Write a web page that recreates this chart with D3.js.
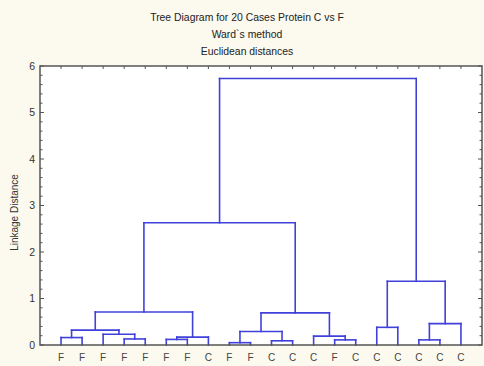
<!DOCTYPE html>
<html><head><meta charset="utf-8">
<script src="https://cdn.jsdelivr.net/npm/d3@7"></script>
<style>
html,body{margin:0;padding:0;background:#fcf9ee;}
svg{display:block;}
text{font-family:"Liberation Sans",Arial,sans-serif;}
</style></head>
<body>
<script>
// ---- data ----
const titleLines = ["Tree Diagram for 20 Cases Protein C vs F", "Ward`s method", "Euclidean distances"];
const leafLabels = ["F","F","F","F","F","F","F","C","F","F","C","C","C","F","C","C","C","C","C","C"];
// merges: [childA, childB, linkage distance]; indices < 20 are leaves, 20+k is merge k
const mergeA = [0, 3, 2, 20, 5, 24, 23, 8, 10, 27, 13, 12, 29, 26, 15, 17, 35, 34, 33];
const mergeB = [1, 4, 21, 22, 6, 7, 25, 9, 11, 28, 14, 30, 31, 32, 16, 18, 19, 36, 37];
const mergeH = [0.16, 0.13, 0.23, 0.32, 0.12, 0.17, 0.71, 0.05, 0.09, 0.29, 0.11, 0.19, 0.69, 2.63, 0.38, 0.11, 0.46, 1.37, 5.73];
const yTicks = [0, 1, 2, 3, 4, 5, 6];
const yTitle = "Linkage Distance";

// ---- layout ----
const W = 484, H = 366;
const L = 40, R = 482, T = 66, B = 345;
const lineColor = "#4040da";

const svg = d3.select("body").append("svg").attr("width", W).attr("height", H);

svg.append("rect").attr("x", L).attr("y", T).attr("width", R - L).attr("height", B - T).attr("fill", "#ffffff");

const n = leafLabels.length;
const x = d3.scaleLinear().domain([-1, n]).range([L, R]);
const y = d3.scaleLinear().domain([0, 6]).range([B, T]);

// titles
svg.selectAll("text.title").data(titleLines).join("text")
  .attr("class", "title")
  .attr("x", 247).attr("y", (d, i) => 20.5 + i * 17)
  .attr("text-anchor", "middle").attr("font-size", 10.4).attr("fill", "#222")
  .text(d => d);

// compute node positions
const nodeX = [], nodeY = [];
for (let i = 0; i < n; i++) { nodeX[i] = x(i); nodeY[i] = y(0); }
const segs = [];
mergeH.forEach((h, k) => {
  const a = mergeA[k], b = mergeB[k];
  const yy = y(h);
  segs.push([nodeX[a], nodeY[a], nodeX[a], yy]);
  segs.push([nodeX[b], nodeY[b], nodeX[b], yy]);
  segs.push([nodeX[a], yy, nodeX[b], yy]);
  nodeX[n + k] = (nodeX[a] + nodeX[b]) / 2;
  nodeY[n + k] = yy;
});

// minor/major ticks (inside)
const tickG = svg.append("g").attr("stroke", "#555").attr("stroke-width", 1);
const minor = d3.range(0, 6.0001, 0.2);
minor.forEach(v => {
  const major = Math.abs(v - Math.round(v)) < 1e-6;
  const len = major ? 4 : 2.5;
  tickG.append("line").attr("x1", L).attr("x2", L + len).attr("y1", y(v)).attr("y2", y(v));
  tickG.append("line").attr("x1", R).attr("x2", R - len).attr("y1", y(v)).attr("y2", y(v));
});
d3.range(n).forEach(i => {
  tickG.append("line").attr("x1", x(i)).attr("x2", x(i)).attr("y1", T).attr("y2", T + 3);
});

// dendrogram
svg.append("g").selectAll("line").data(segs).join("line")
  .attr("x1", d => d[0]).attr("y1", d => d[1]).attr("x2", d => d[2]).attr("y2", d => d[3])
  .attr("stroke", lineColor).attr("stroke-width", 1.6).attr("stroke-linecap", "square");

// frame
svg.append("rect").attr("x", L).attr("y", T).attr("width", R - L).attr("height", B - T)
  .attr("fill", "none").attr("stroke", "#555").attr("stroke-width", 1.5);

// y tick labels
svg.selectAll("text.yt").data(yTicks).join("text").attr("class", "yt")
  .attr("x", L - 5).attr("y", d => y(d) + 3.5).attr("text-anchor", "end")
  .attr("font-size", 10.5).attr("fill", "#333").text(d => d);

// y title
svg.append("text").attr("transform", `translate(18,${(T + B) / 2 + 7}) rotate(-90)`)
  .attr("text-anchor", "middle").attr("font-size", 10).attr("fill", "#333").text(yTitle);

// leaf labels
svg.selectAll("text.xl").data(leafLabels).join("text").attr("class", "xl")
  .attr("x", (d, i) => x(i)).attr("y", 361).attr("text-anchor", "middle")
  .attr("font-size", 10).attr("fill", "#444").text(d => d);
</script>
</body></html>
